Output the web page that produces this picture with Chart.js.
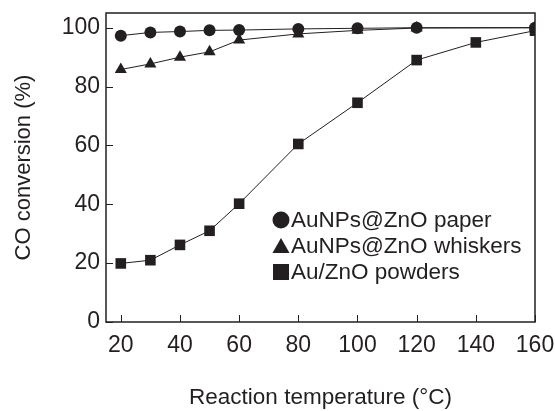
<!DOCTYPE html>
<html>
<head>
<meta charset="utf-8">
<script src="https://cdn.jsdelivr.net/npm/chart.js@4.4.1/dist/chart.umd.min.js"></script>
<style>
  html, body { margin: 0; padding: 0; background: #fff; }
  #wrap { width: 555px; height: 411px; }
</style>
</head>
<body>
<div id="wrap"><canvas id="coChart"></canvas></div>
<script>
// --- Data ---
const tempPaper = [20, 30, 40, 50, 60, 80, 100, 120, 160];
const convPaper = [97.3, 98.4, 98.7, 99.1, 99.2, 99.6, 99.8, 100, 100];

const tempWhiskers = [20, 30, 40, 50, 60, 80, 100, 120, 160];
const convWhiskers = [85.8, 87.7, 90, 91.8, 95.8, 97.9, 99.1, 99.9, 100];

const tempPowders = [20, 30, 40, 50, 60, 80, 100, 120, 140, 160];
const convPowders = [19.9, 21, 26.2, 31, 40.2, 60.5, 74.5, 89, 95, 99];

const labels = ['AuNPs@ZnO paper', 'AuNPs@ZnO whiskers', 'Au/ZnO powders'];
const xTicks = [20, 40, 60, 80, 100, 120, 140, 160];
const yTicks = [0, 20, 40, 60, 80, 100];

const ink = '#231f20';
const fontFamily = '"Liberation Sans", Arial, Helvetica, sans-serif';

const toPoints = (xs, ys) => xs.map((x, i) => ({ x: x, y: ys[i] }));

// frame + inward tick marks
const framePlugin = {
  id: 'frame',
  afterDraw(chart) {
    const { ctx, chartArea: a, scales } = chart;
    ctx.save();
    ctx.strokeStyle = ink;
    ctx.lineWidth = 1.5;
    ctx.strokeRect(a.left, a.top, a.right - a.left, a.bottom - a.top);
    ctx.lineWidth = 1;
    const len = 7;
    xTicks.forEach(v => {
      const px = Math.round(scales.x.getPixelForValue(v)) + 0.5;
      ctx.beginPath();
      ctx.moveTo(px, a.bottom);
      ctx.lineTo(px, a.bottom - len);
      ctx.stroke();
    });
    yTicks.forEach(v => {
      const py = Math.round(scales.y.getPixelForValue(v)) + 0.5;
      ctx.beginPath();
      ctx.moveTo(a.left, py);
      ctx.lineTo(a.left + len, py);
      ctx.stroke();
    });
    ctx.restore();
  }
};

// legend inside the plot
const innerLegend = {
  id: 'innerLegend',
  afterDraw(chart) {
    const { ctx, chartArea: a } = chart;
    const x0 = a.left + 175;
    const y0 = a.top + 207;
    const rowH = 26;
    ctx.save();
    ctx.fillStyle = ink;
    ctx.font = '22.5px ' + fontFamily;
    ctx.textBaseline = 'middle';
    labels.forEach((lab, i) => {
      const y = y0 + i * rowH;
      ctx.beginPath();
      if (i === 0) {
        ctx.arc(x0, y, 8.5, 0, Math.PI * 2);
      } else if (i === 1) {
        ctx.moveTo(x0, y - 8);
        ctx.lineTo(x0 + 8.5, y + 7);
        ctx.lineTo(x0 - 8.5, y + 7);
        ctx.closePath();
      } else {
        ctx.rect(x0 - 8, y - 8, 16, 16);
      }
      ctx.fill();
      ctx.fillText(lab, x0 + 10, y + 1);
    });
    ctx.restore();
  }
};

const ctx = document.getElementById('coChart').getContext('2d');

new Chart(ctx, {
  type: 'line',
  data: {
    datasets: [
      {
        label: labels[0],
        data: toPoints(tempPaper, convPaper),
        pointStyle: 'circle',
        pointRadius: 6
      },
      {
        label: labels[1],
        data: toPoints(tempWhiskers, convWhiskers),
        pointStyle: 'triangle',
        pointRadius: 7
      },
      {
        label: labels[2],
        data: toPoints(tempPowders, convPowders),
        pointStyle: 'rect',
        pointRadius: 7.5
      }
    ].map(ds => Object.assign(ds, {
      borderColor: ink,
      backgroundColor: ink,
      pointBackgroundColor: ink,
      pointBorderColor: ink,
      pointBorderWidth: 0,
      borderWidth: 1,
      tension: 0,
      fill: false
    }))
  },
  options: {
    responsive: true,
    maintainAspectRatio: false,
    animation: false,
    devicePixelRatio: 1,
    layout: { padding: { top: 13, right: 20, left: 0, bottom: 0 } },
    plugins: {
      legend: { display: false },
      tooltip: { enabled: false }
    },
    scales: {
      x: {
        type: 'linear',
        min: 15,
        max: 160,
        afterBuildTicks: s => { s.ticks = xTicks.map(v => ({ value: v })); },
        afterFit: s => { s.height = 89; s.paddingLeft = 0; s.paddingRight = 0; },
        grid: { display: false, drawTicks: false },
        border: { display: false },
        ticks: {
          color: ink,
          padding: 10,
          maxRotation: 0,
          font: { family: fontFamily, size: 23 }
        },
        title: {
          display: true,
          text: 'Reaction temperature (°C)',
          color: ink,
          padding: { top: 0, bottom: 0 },
          font: { family: fontFamily, size: 22.5 }
        }
      },
      y: {
        min: 0,
        max: 105,
        afterBuildTicks: s => { s.ticks = yTicks.map(v => ({ value: v })); },
        afterFit: s => { s.width = 106; s.paddingTop = 0; s.paddingBottom = 0; },
        grid: { display: false, drawTicks: false },
        border: { display: false },
        ticks: {
          color: ink,
          padding: 6,
          font: { family: fontFamily, size: 23 }
        },
        title: {
          display: true,
          text: 'CO conversion (%)',
          color: ink,
          padding: { top: 11, bottom: 0 },
          font: { family: fontFamily, size: 22 }
        }
      }
    }
  },
  plugins: [framePlugin, innerLegend]
});
</script>
</body>
</html>
